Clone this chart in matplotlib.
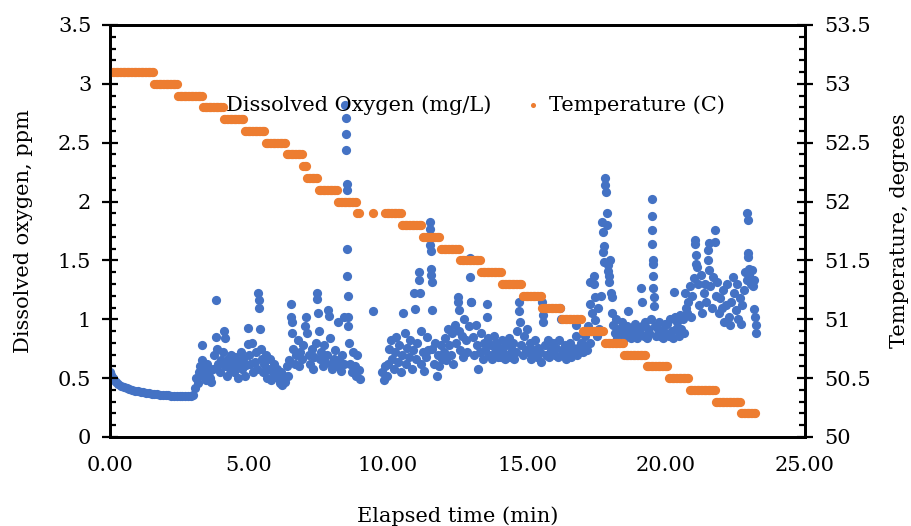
import numpy as np
import matplotlib
matplotlib.use("Agg")
import matplotlib.pyplot as plt
from matplotlib.ticker import MultipleLocator, FormatStrFormatter, FuncFormatter

# dissolved oxygen readings (elapsed min, mg/L)
do_time = [
    0.00, 0.05, 0.10, 0.15, 0.20, 0.30, 0.40, 0.50, 0.60, 0.70, 0.80, 0.90,
    1.00, 1.10, 1.20, 1.30, 1.40, 1.50, 1.60, 1.70, 1.80, 1.90,
    2.00, 2.10, 2.20, 2.30, 2.40, 2.50, 2.60, 2.70, 2.80, 2.90, 3.00,
    3.05, 3.10, 3.15, 3.20, 3.25, 3.30, 3.30, 3.35, 3.40, 3.45, 3.50, 3.55, 3.60, 3.65, 3.70, 3.75, 3.80, 3.82, 3.85, 3.90, 3.95,
    4.00, 4.05, 4.10, 4.12, 4.15, 4.20, 4.25, 4.30, 4.35, 4.40, 4.45, 4.50, 4.55, 4.60, 4.65, 4.70, 4.75, 4.80, 4.85, 4.90, 4.95, 4.97,
    5.00, 5.05, 5.10, 5.15, 5.20, 5.25, 5.30, 5.33, 5.35, 5.37, 5.40, 5.42, 5.45, 5.50, 5.55, 5.60, 5.65, 5.70, 5.75, 5.80, 5.85, 5.90, 5.95,
    6.00, 6.05, 6.10, 6.15, 6.20, 6.25, 6.30, 6.35, 6.40, 6.45, 6.50, 6.52, 6.54, 6.56, 6.60, 6.65, 6.70, 6.75, 6.80, 6.85, 6.90, 6.95,
    7.00, 7.05, 7.10, 7.15, 7.20, 7.25, 7.30, 7.35, 7.40, 7.43, 7.45, 7.47, 7.50, 7.55, 7.60, 7.65, 7.70, 7.75, 7.80, 7.85, 7.87, 7.90, 7.95,
    8.00, 8.05, 8.10, 8.15, 8.20, 8.25, 8.30, 8.35, 8.40, 8.42, 8.47, 8.48, 8.49, 8.50, 8.51, 8.52, 8.53, 8.54, 8.55, 8.56, 8.57,
    8.60, 8.65, 8.70, 8.75, 8.80, 8.85, 8.90, 8.95, 9.00,
    9.47,
    9.80, 9.85, 9.90, 9.95,
    10.00, 10.05, 10.10, 10.15, 10.20, 10.25, 10.30, 10.35, 10.40, 10.45, 10.50, 10.55, 10.60, 10.65, 10.70, 10.75, 10.80, 10.85, 10.90, 10.95, 10.97,
    11.00, 11.05, 11.10, 11.12, 11.14, 11.18, 11.20, 11.25, 11.30, 11.35, 11.40, 11.45, 11.50, 11.51, 11.52, 11.53, 11.55, 11.56, 11.57, 11.58,
    11.60, 11.65, 11.70, 11.75, 11.80, 11.85, 11.90, 11.95,
    12.00, 12.05, 12.10, 12.15, 12.20, 12.25, 12.30, 12.35, 12.40, 12.45, 12.50, 12.52, 12.54, 12.56, 12.60, 12.65, 12.70, 12.75, 12.80, 12.85, 12.90,
    12.95, 12.96, 12.97,
    13.00, 13.05, 13.10, 13.15, 13.20, 13.25, 13.30, 13.35, 13.40, 13.45, 13.50, 13.55, 13.57, 13.60, 13.65, 13.70, 13.75, 13.80, 13.85, 13.90, 13.95,
    14.00, 14.05, 14.10, 14.15, 14.20, 14.25, 14.30, 14.35, 14.40, 14.45, 14.50, 14.55, 14.60, 14.65, 14.70, 14.72, 14.74, 14.80, 14.85, 14.90, 14.95,
    15.00, 15.05, 15.10, 15.15, 15.20, 15.25, 15.30, 15.35, 15.40, 15.45, 15.50, 15.55, 15.57, 15.59, 15.65, 15.70, 15.75, 15.80, 15.85, 15.90, 15.95,
    16.00, 16.05, 16.10, 16.15, 16.20, 16.22, 16.25, 16.30, 16.35, 16.40, 16.45, 16.50, 16.55, 16.60, 16.65, 16.70, 16.75, 16.78, 16.80, 16.85, 16.90, 16.95,
    17.00, 17.05, 17.10, 17.15, 17.20, 17.25, 17.27, 17.28, 17.30, 17.35, 17.40, 17.42, 17.44, 17.46, 17.50, 17.55, 17.60, 17.65,
    17.70, 17.72, 17.74, 17.76, 17.78, 17.80, 17.82, 17.84, 17.86, 17.88, 17.90, 17.92, 17.94, 17.96,
    18.00, 18.02, 18.04, 18.06, 18.10, 18.15, 18.20, 18.25, 18.30, 18.35, 18.40, 18.45, 18.50, 18.55, 18.60, 18.65, 18.70, 18.75, 18.80, 18.85, 18.90, 18.95,
    19.00, 19.05, 19.10, 19.12, 19.15, 19.20, 19.25, 19.30, 19.35, 19.40, 19.45, 19.48, 19.49, 19.50, 19.51, 19.52, 19.53, 19.54, 19.55, 19.56, 19.58,
    19.60, 19.65, 19.70, 19.75, 19.80, 19.85, 19.90, 19.95,
    20.00, 20.05, 20.10, 20.15, 20.20, 20.25, 20.30, 20.32, 20.35, 20.40, 20.45, 20.50, 20.55, 20.60, 20.65, 20.70, 20.72, 20.75, 20.80, 20.85, 20.90, 20.95,
    21.00, 21.03, 21.05, 21.07, 21.09, 21.10, 21.15, 21.20, 21.25, 21.30, 21.35, 21.40, 21.45, 21.50, 21.52, 21.54, 21.56, 21.60, 21.65, 21.70, 21.75, 21.77,
    21.80, 21.85, 21.90, 21.95,
    22.00, 22.05, 22.10, 22.15, 22.20, 22.25, 22.30, 22.35, 22.40, 22.45, 22.50, 22.55, 22.60, 22.65, 22.70, 22.75, 22.80, 22.85, 22.90,
    22.93, 22.94, 22.95, 22.96, 22.98,
    23.00, 23.05, 23.10, 23.12, 23.15, 23.18, 23.20, 23.22, 23.24,
]
do_value = [
    0.555, 0.525, 0.50, 0.485, 0.47, 0.45, 0.435, 0.425, 0.415, 0.407, 0.40, 0.394,
    0.388, 0.383, 0.379, 0.375, 0.371, 0.368, 0.365, 0.362, 0.360, 0.358,
    0.356, 0.354, 0.352, 0.351, 0.350, 0.349, 0.348, 0.347, 0.347, 0.348, 0.36,
    0.42, 0.50, 0.46, 0.55, 0.60, 0.78, 0.65, 0.52, 0.57, 0.48, 0.62, 0.55, 0.50, 0.47, 0.58, 0.70, 0.85, 1.16, 0.75, 0.62, 0.55,
    0.65, 0.72, 0.90, 0.84, 0.60, 0.52, 0.66, 0.58, 0.70, 0.62, 0.55, 0.68, 0.60, 0.50, 0.64, 0.72, 0.58, 0.66, 0.52, 0.61, 0.93, 0.79,
    0.70, 0.62, 0.80, 0.55, 0.64, 0.72, 0.58, 1.22, 1.16, 1.10, 0.92, 0.75, 0.66, 0.55, 0.62, 0.70, 0.50, 0.58, 0.66, 0.48, 0.55, 0.62, 0.52,
    0.58, 0.50, 0.46, 0.55, 0.44, 0.52, 0.47, 0.60, 0.52, 0.65, 1.13, 1.02, 0.98, 0.88, 0.75, 0.62, 0.70, 0.82, 0.60, 0.72, 0.66, 0.78,
    0.94, 1.02, 0.88, 0.70, 0.62, 0.75, 0.58, 0.68, 0.80, 1.22, 1.17, 1.05, 0.90, 0.66, 0.72, 0.60, 0.78, 0.64, 0.70, 1.08, 1.03, 0.84, 0.62,
    0.58, 0.66, 0.74, 0.60, 0.98, 0.65, 0.56, 0.70, 1.02, 0.62, 2.82, 2.71, 2.57, 2.44, 2.15, 2.10, 1.60, 1.37, 1.20, 1.02, 0.94,
    0.80, 0.62, 0.55, 0.72, 0.60, 0.52, 0.70, 0.57, 0.49,
    1.07,
    0.55, 0.48, 0.60, 0.52,
    0.62, 0.75, 0.82, 0.66, 0.58, 0.72, 0.85, 0.64, 0.78, 0.55, 0.70, 1.05, 0.88, 0.62, 0.76, 0.68, 0.82, 0.58, 0.74, 1.22, 1.09,
    0.66, 0.80, 1.40, 1.33, 1.22, 0.90, 0.62, 0.72, 0.56, 0.68, 0.85, 0.74, 1.83, 1.77, 1.63, 1.58, 1.43, 1.38, 1.32, 1.08,
    0.75, 0.62, 0.80, 0.52, 0.70, 0.60, 0.78, 0.66,
    0.72, 0.84, 0.65, 0.92, 0.78, 0.70, 0.88, 0.62, 0.95, 0.80, 1.19, 1.15, 1.08, 0.90, 0.74, 0.86, 0.68, 1.00, 0.82, 0.72, 0.94,
    1.52, 1.36, 1.15,
    1.15, 0.85, 0.70, 0.95, 0.78, 0.58, 0.72, 0.88, 0.66, 0.80, 0.74, 1.13, 1.02, 0.84, 0.70, 0.78, 0.66, 0.86, 0.72, 0.80, 0.68,
    0.76, 0.68, 0.82, 0.72, 0.66, 0.78, 0.70, 0.84, 0.68, 0.74, 0.80, 0.66, 0.72, 0.90, 1.15, 1.07, 0.98, 0.78, 0.70, 0.86, 0.74,
    0.92, 0.72, 0.80, 0.66, 0.74, 0.70, 0.82, 0.68, 0.76, 0.72, 0.64, 1.15, 1.04, 0.98, 0.78, 0.70, 0.82, 0.68, 0.74, 0.72, 0.80,
    0.70, 0.76, 0.68, 0.82, 1.10, 1.00, 0.74, 0.70, 0.78, 0.66, 0.74, 0.72, 0.80, 0.68, 0.76, 0.72, 0.95, 0.86, 0.70, 0.76, 0.74, 0.80,
    0.72, 0.78, 0.86, 0.74, 0.94, 0.80, 1.32, 1.13, 0.90, 1.05, 1.37, 1.30, 1.19, 0.99, 0.86, 1.10, 0.92, 1.20,
    1.83, 1.74, 1.57, 1.62, 1.49, 2.20, 2.14, 2.08, 1.90, 1.80, 1.46, 1.41, 1.37, 1.32,
    1.50, 1.22, 1.19, 1.05, 0.95, 0.88, 1.00, 0.84, 0.92, 0.86, 0.98, 0.82, 0.90, 0.86, 0.94, 1.07, 0.88, 0.84, 0.92, 0.86, 0.96, 0.84,
    0.90, 0.88, 1.27, 1.15, 0.94, 0.86, 0.98, 0.84, 0.92, 0.88, 1.00, 2.02, 1.88, 1.76, 1.64, 1.50, 1.47, 1.37, 1.27, 1.19, 1.11,
    0.94, 0.86, 0.92, 0.98, 0.86, 0.90, 0.84, 0.96,
    0.88, 0.96, 0.86, 1.00, 0.90, 0.84, 1.23, 1.02, 0.92, 0.98, 0.86, 1.04, 0.92, 1.00, 0.88, 1.22, 1.10, 1.05, 1.15, 1.28, 1.02, 1.20,
    1.35, 1.67, 1.64, 1.55, 1.47, 1.44, 1.30, 1.12, 1.38, 1.05, 1.22, 1.30, 1.15, 1.59, 1.50, 1.42, 1.65, 1.28, 1.10, 1.36, 1.76, 1.66,
    1.20, 1.32, 1.05, 1.18,
    1.10, 1.25, 0.98, 1.12, 1.30, 1.02, 0.95, 1.15, 1.36, 1.22, 1.08, 1.30, 1.00, 1.18, 0.96, 1.12, 1.25, 1.40, 1.33,
    1.90, 1.84, 1.56, 1.53, 1.43,
    1.38, 1.30, 1.42, 1.28, 1.33, 1.09, 1.02, 0.95, 0.88,
]

# temperature steps: level (C) held until the given elapsed minute
temp_level = [53.1, 53.0, 52.9, 52.8, 52.7, 52.6, 52.5, 52.4, 52.3, 52.2, 52.1, 52.0,
              51.9, np.nan, 51.9, np.nan, 51.9, 51.8, 51.7, 51.6, 51.5, 51.4, 51.3,
              51.2, 51.1, 51.0, 50.9, 50.8, 50.7, 50.6, 50.5, 50.4, 50.3, 50.2]
temp_until = [1.60, 2.45, 3.35, 4.10, 4.85, 5.60, 6.35, 6.95, 7.10, 7.50, 8.20, 8.90,
              9.00, 9.43, 9.50, 9.88, 10.50, 11.25, 11.90, 12.60, 13.35, 14.10, 14.85,
              15.55, 16.25, 17.00, 17.80, 18.50, 19.30, 20.10, 20.85, 21.80, 22.70, 23.25]
temp_time = np.arange(0, 23.25, 0.05)  # logger sample grid
temp_value = np.array(temp_level)[np.searchsorted(temp_until, temp_time, side='right').clip(0, len(temp_level) - 1)]

plt.rcParams['font.family'] = ['DejaVu Serif']
plt.rcParams['font.size'] = 15

blue = '#4472C4'
orange = '#ED7D31'

fig = plt.figure(figsize=(9.11, 5.26), dpi=100)
ax = fig.add_axes([110 / 911, 1 - 437 / 526, 695 / 911, 412 / 526])
ax2 = ax.twinx()

s1 = ax.scatter(do_time, do_value, s=44, color=blue, linewidths=0, label='Dissolved Oxygen (mg/L)')
s2 = ax2.scatter(temp_time, temp_value, s=44, color=orange, linewidths=0, label='Temperature (C)')

ax.set_xlim(0, 25)
ax.set_ylim(0, 3.5)
ax2.set_ylim(50, 53.5)

ax.xaxis.set_major_locator(MultipleLocator(5))
ax.xaxis.set_major_formatter(FormatStrFormatter('%.2f'))
ax.yaxis.set_major_locator(MultipleLocator(0.5))
ax.yaxis.set_minor_locator(MultipleLocator(0.1))
ax2.yaxis.set_major_locator(MultipleLocator(0.5))
ax2.yaxis.set_minor_locator(MultipleLocator(0.1))
fmt = FuncFormatter(lambda v, p: ('%g' % round(v, 2)))
ax.yaxis.set_major_formatter(fmt)
ax2.yaxis.set_major_formatter(fmt)

for a in (ax, ax2):
    for sp in a.spines.values():
        sp.set_linewidth(2.0)
        sp.set_color('black')

ax.tick_params(axis='x', length=0, pad=14)
ax.tick_params(axis='y', which='major', direction='inout', length=11, width=1.6, pad=8)
ax.tick_params(axis='y', which='minor', direction='in', length=4.5, width=1.6)
ax2.tick_params(axis='y', which='major', direction='inout', length=11, width=1.6, pad=8)
ax2.tick_params(axis='y', which='minor', direction='in', length=4.5, width=1.6)

ax.set_xlabel('Elapsed time (min)', labelpad=22)
ax.set_ylabel('Dissolved oxygen, ppm', labelpad=18)
ax2.set_ylabel('Temperature, degrees', rotation=90, labelpad=14)

ax.legend(handles=[s1, s2], loc='center', bbox_to_anchor=(0.508, 0.806), ncol=2,
          frameon=False, markerscale=0.55, handletextpad=0.4, columnspacing=1.6,
          handlelength=0.8, borderaxespad=0)

fig.savefig('out.png', dpi=100)
